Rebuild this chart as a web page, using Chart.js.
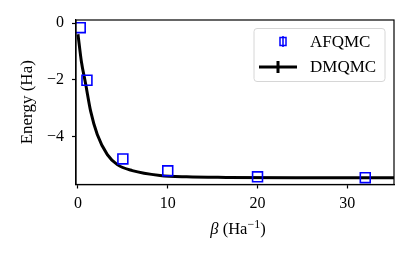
<!DOCTYPE html>
<html>
<head>
<meta charset="utf-8">
<script src="https://cdn.jsdelivr.net/npm/chart.js@4.4.1/dist/chart.umd.min.js"></script>
<style>
  html, body { margin: 0; padding: 0; background: #fff; }
  #wrap { width: 415px; height: 256px; }
</style>
</head>
<body>
<div id="wrap"><canvas id="energy-chart" width="415" height="256"></canvas></div>
<script>
// AFQMC points (beta, energy)
const afqmcBeta = [0.25, 1, 5, 10, 20, 32];
const afqmcEnergy = [-0.16, -2.01, -4.78, -5.20, -5.41, -5.44];

// DMQMC curve
const dmqmcBeta = [0, 0.37, 0.86, 1.41, 2.15, 3.27, 4.38, 6.05, 9.14, 12.1, 16.5, 25, 36];
const dmqmcEnergy = [-0.39, -1.33, -2.15, -3.10, -3.92, -4.63, -4.98, -5.19, -5.36, -5.41, -5.43, -5.44, -5.44];

const xTicks = [0, 10, 20, 30];
const yTicks = [0, -2, -4];

const serif = "'Liberation Serif', 'DejaVu Serif', serif";

const toXY = (xs, ys) => xs.map((x, i) => ({ x: x, y: ys[i] }));
const minus = v => String(v).replace('-', '\u2212');

// matplotlib style legend box, upper right
const legendBox = {
  id: 'legendBox',
  afterDraw(chart) {
    const ctx = chart.ctx;
    const area = chart.chartArea;
    const w = 131, h = 53;
    const x0 = area.right - 9 - w, y0 = area.top + 8.5;
    ctx.save();
    ctx.beginPath();
    ctx.roundRect(x0, y0, w, h, 3);
    ctx.fillStyle = 'rgba(255,255,255,0.8)';
    ctx.fill();
    ctx.strokeStyle = '#d6d6d6';
    ctx.lineWidth = 1;
    ctx.stroke();

    ctx.font = '17px ' + serif;
    ctx.fillStyle = '#000';
    ctx.textBaseline = 'middle';

    // AFQMC entry: errorbar + square
    const ds = chart.data.datasets;
    let yA = y0 + 13;
    ctx.strokeStyle = ds[0].borderColor;
    ctx.lineWidth = 1.5;
    ctx.strokeRect(x0 + 26, yA - 4, 6, 8);
    ctx.beginPath();
    ctx.moveTo(x0 + 29, yA - 5.5);
    ctx.lineTo(x0 + 29, yA + 5.5);
    ctx.stroke();
    ctx.fillText(ds[0].label, x0 + 56, yA + 1);

    // DMQMC entry: line + errorbar
    let yD = y0 + 38.5;
    ctx.strokeStyle = ds[1].borderColor;
    ctx.lineWidth = 3;
    ctx.beginPath();
    ctx.moveTo(x0 + 5, yD);
    ctx.lineTo(x0 + 43, yD);
    ctx.moveTo(x0 + 24, yD - 6);
    ctx.lineTo(x0 + 24, yD + 6);
    ctx.stroke();
    ctx.fillText(ds[1].label, x0 + 56, yD + 1);
    ctx.restore();
  }
};

// x axis label with italic beta and a superscript
const xLabel = {
  id: 'xLabel',
  afterDraw(chart) {
    const ctx = chart.ctx, a = chart.chartArea;
    const parts = [
      { t: '\u03b2', f: 'italic 16.5px ' + serif, dy: 0 },
      { t: ' (Ha', f: '16.5px ' + serif, dy: 0 },
      { t: '\u22121', f: '12px ' + serif, dy: -6 },
      { t: ')', f: '16.5px ' + serif, dy: 0 }
    ];
    ctx.save();
    let total = 0;
    parts.forEach(p => { ctx.font = p.f; p.w = ctx.measureText(p.t).width; total += p.w; });
    let x = (a.left + a.right) / 2 - total / 2 + 3;
    const base = 233.5;
    ctx.fillStyle = '#000';
    ctx.textBaseline = 'alphabetic';
    parts.forEach(p => { ctx.font = p.f; ctx.fillText(p.t, x, base + p.dy); x += p.w; });
    ctx.restore();
  }
};

new Chart(document.getElementById('energy-chart'), {
  type: 'scatter',
  data: {
    datasets: [{
      label: 'AFQMC',
      data: toXY(afqmcBeta, afqmcEnergy),
      pointStyle: 'rect',
      pointRadius: 7,
      pointBorderWidth: 1.6,
      borderColor: '#0000ff',
      backgroundColor: 'rgba(0,0,0,0)',
      showLine: false
    }, {
      label: 'DMQMC',
      data: toXY(dmqmcBeta, dmqmcEnergy),
      showLine: true,
      borderColor: '#000000',
      borderWidth: 3,
      pointRadius: 0,
      cubicInterpolationMode: 'monotone',
      fill: false
    }]
  },
  options: {
    responsive: false,
    animation: false,
    layout: { padding: { top: 20, right: 21, bottom: 0, left: 0 } },
    plugins: {
      legend: { display: false },
      tooltip: { enabled: false }
    },
    scales: {
      x: {
        type: 'linear',
        min: -0.22,
        max: 35.2,
        afterFit: s => { s.height = 71.5; },
        afterBuildTicks: s => { s.ticks = xTicks.map(v => ({ value: v })); },
        border: { display: true, color: '#000', width: 1.2 },
        grid: { display: true, drawOnChartArea: false, tickLength: 4, tickColor: '#000', tickWidth: 1.2 },
        ticks: {
          color: '#000', padding: 6,
          font: { family: serif, size: 16 },
          callback: v => minus(v)
        }
      },
      y: {
        type: 'linear',
        min: -5.68,
        max: 0.11,
        afterFit: s => { s.width = 76; },
        afterBuildTicks: s => { s.ticks = yTicks.map(v => ({ value: v })); },
        border: { display: true, color: '#000', width: 1.2 },
        grid: { display: true, drawOnChartArea: false, tickLength: 4, tickColor: '#000', tickWidth: 1.2 },
        ticks: {
          color: '#000', padding: 8,
          font: { family: serif, size: 16 },
          callback: v => minus(v)
        },
        title: {
          display: true, text: 'Energy (Ha)', color: '#000',
          font: { family: serif, size: 17 },
          padding: { top: 17.5, bottom: 0 }
        }
      }
    }
  },
  plugins: [legendBox, xLabel, {
    // box the plot area on all four sides
    id: 'frame',
    afterDraw(chart) {
      const a = chart.chartArea, ctx = chart.ctx;
      ctx.save();
      ctx.strokeStyle = '#000';
      ctx.lineWidth = 1.2;
      ctx.strokeRect(a.left, a.top, a.right - a.left, a.bottom - a.top);
      ctx.restore();
    }
  }]
});
</script>
</body>
</html>
